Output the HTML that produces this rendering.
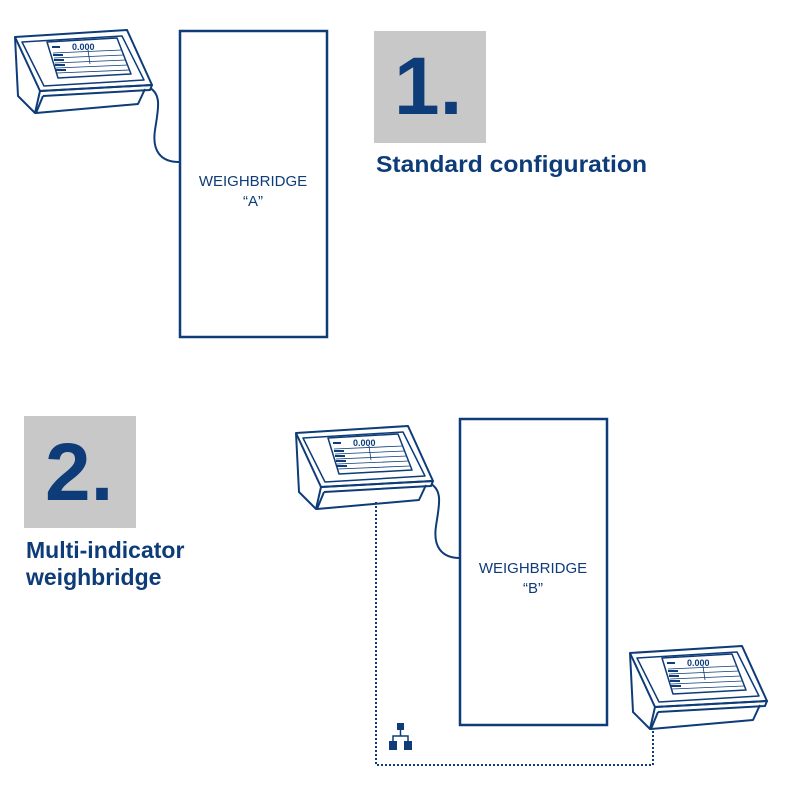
<!DOCTYPE html>
<html><head><meta charset="utf-8"><style>
html,body{margin:0;padding:0;background:#fff;width:800px;height:800px;overflow:hidden}
</style></head><body>
<svg width="800" height="800" viewBox="0 0 800 800" xmlns="http://www.w3.org/2000/svg" font-family="Liberation Sans, sans-serif">
<defs>
<g id="ind" fill="none" stroke="#0d3c78" stroke-width="2" stroke-linejoin="round">
  <path d="M15,37 L127,30 L152,85 L40,91 Z" fill="#fff"/>
  <path d="M22,42 L122,36 L144,80 L44,86 Z" stroke-width="1.5"/>
  <path d="M47,42 L117,38 L131,74 L58,78 Z" stroke-width="1.5"/>
  <path d="M15,37 L18,96 L35,113 L40,91"/>
  <path d="M40,91 L152,85 L150,90 L43,96"/>
  <path d="M43,96 L36,113 L138,104 L145,89"/>
  <rect x="52" y="46" width="8" height="2" fill="#0d3c78" stroke="none"/>
  <text x="72" y="50" font-size="9" fill="#0d3c78" stroke="none" font-weight="bold">0.000</text>
  <g stroke-width="0.8"><path d="M53,53 L122,50 M54,58 L124,55 M55,63 L126,60 M56,68 L128,65 M57,73 L129,70 M88,50 L90,64"/></g>
  <g fill="#0d3c78" stroke="none"><rect x="53" y="54" width="10" height="2"/><rect x="54" y="59" width="10" height="2"/><rect x="55" y="64" width="10" height="2"/><rect x="56" y="69" width="10" height="2"/></g>
</g>
</defs>
<use href="#ind"/>
<path d="M150,88 C162,95 158,110 155,130 C152,150 160,162 179,162" fill="none" stroke="#0d3c78" stroke-width="2"/>
<rect x="180" y="31" width="147" height="306" fill="none" stroke="#0d3c78" stroke-width="2.5"/>
<text x="253" y="186" font-size="15" fill="#0d3c78" text-anchor="middle">WEIGHBRIDGE</text>
<text x="253" y="206" font-size="15" fill="#0d3c78" text-anchor="middle">“A”</text>
<rect x="374" y="31" width="112" height="112" fill="#c8c8c8"/>
<text x="394" y="114" font-size="82" font-weight="bold" fill="#0d3c78">1.</text>
<text x="376" y="172" font-size="23" font-weight="bold" fill="#0d3c78" textLength="271" lengthAdjust="spacingAndGlyphs">Standard configuration</text>
<rect x="24" y="416" width="112" height="112" fill="#c8c8c8"/>
<text x="45" y="500" font-size="82" font-weight="bold" fill="#0d3c78">2.</text>
<text x="26" y="558" font-size="23" font-weight="bold" fill="#0d3c78">Multi-indicator</text>
<text x="26" y="585" font-size="23" font-weight="bold" fill="#0d3c78">weighbridge</text>
<use href="#ind" transform="translate(281,396)"/>
<use href="#ind" transform="translate(615,616)"/>
<path d="M431,484 C443,491 439,506 436,526 C433,546 441,558 460,558" fill="none" stroke="#0d3c78" stroke-width="2"/>
<rect x="460" y="419" width="147" height="306" fill="none" stroke="#0d3c78" stroke-width="2.5"/>
<text x="533" y="573" font-size="15" fill="#0d3c78" text-anchor="middle">WEIGHBRIDGE</text>
<text x="533" y="593" font-size="15" fill="#0d3c78" text-anchor="middle">“B”</text>
<path d="M376,502 L376,765 L653,765 L653,729" fill="none" stroke="#0d3c78" stroke-width="2" stroke-dasharray="2,2"/>
<g fill="#0d3c78" stroke="#0d3c78">
  <rect x="397" y="723" width="7" height="7" stroke="none"/>
  <rect x="389" y="741" width="8" height="9" stroke="none"/>
  <rect x="404" y="741" width="8" height="9" stroke="none"/>
  <path d="M400.5,730 V736 M393,741 V736 H408 V741" fill="none" stroke-width="1.5"/>
</g>
</svg>
</body></html>
